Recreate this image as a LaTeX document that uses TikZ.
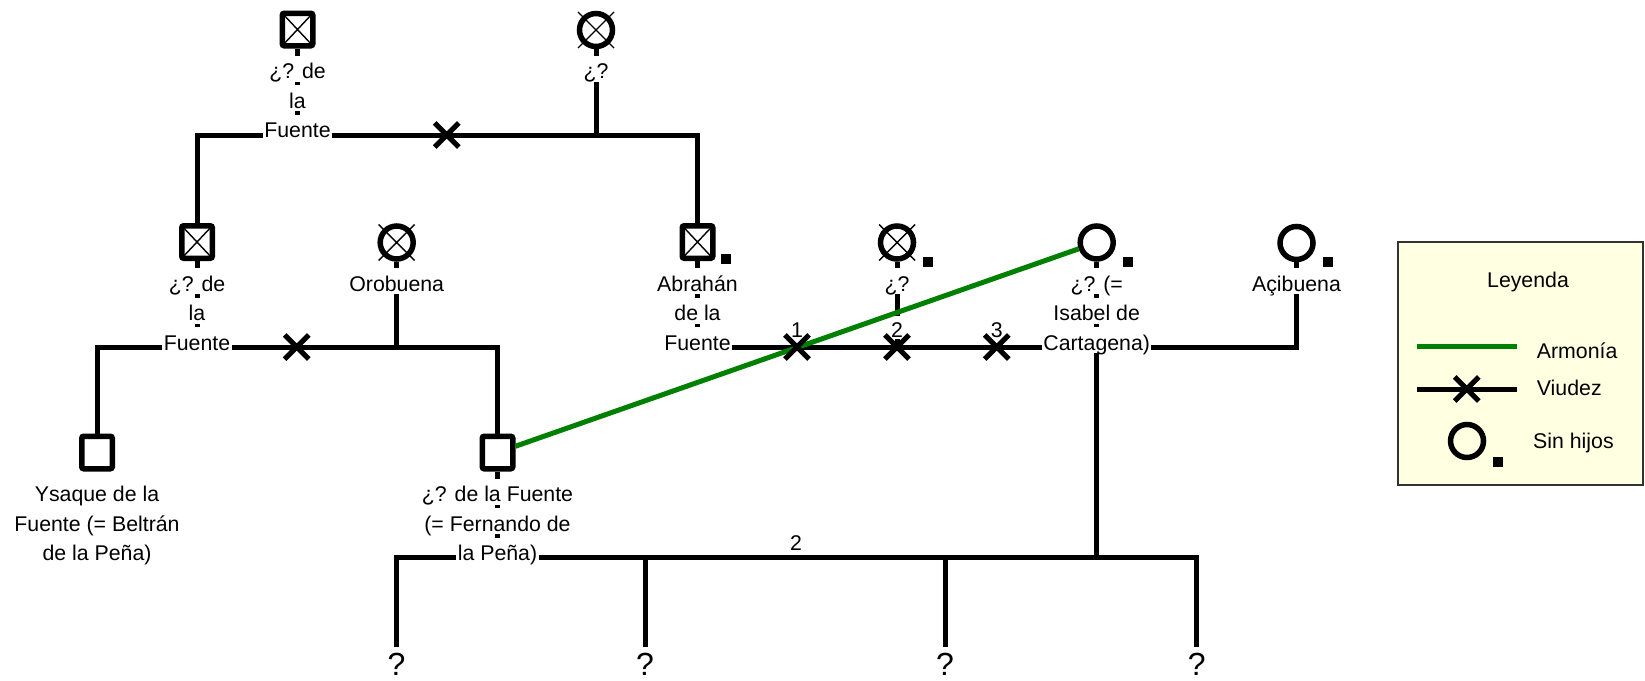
\documentclass[tikz,border=0pt]{standalone}
\usepackage{fontspec}
\setmainfont{Liberation Sans}
\usetikzlibrary{shapes.misc}
\definecolor{harmgreen}{RGB}{0,128,0}
\definecolor{legendfill}{RGB}{255,255,225}
\definecolor{legendborder}{RGB}{50,50,50}
\newcommand{\lblfont}{\fontsize{21.3pt}{30pt}\selectfont}
\newcommand{\qfont}{\fontsize{32pt}{36pt}\selectfont}

\begin{document}
\begin{tikzpicture}[x=1pt,y=-1pt,
  ln/.style={line width=5pt},
  harm/.style={line width=5pt, draw=harmgreen},
  male/.style={rectangle, draw, fill=white, line width=5.5pt, rounded corners=2pt,
    minimum width=30.5pt, minimum height=32.5pt, inner sep=0pt},
  female/.style={circle, draw, fill=white, line width=5.5pt, minimum size=33pt, inner sep=0pt},
  deadm/.style={path picture={\draw[line width=1.4pt]
    (path picture bounding box.north west) -- (path picture bounding box.south east)
    (path picture bounding box.north east) -- (path picture bounding box.south west);}},
  deadx/.style={line width=1.4pt},
  nokid/.style={rectangle, fill=black, minimum size=10pt, inner sep=0pt},
  widow/.style={cross out, draw, line width=5.2pt, minimum size=19pt, inner sep=0pt},
  lbl/.style={font=\lblfont, fill=white, inner xsep=1.5pt, inner ysep=0pt,
    text height=23pt, text depth=3pt, anchor=base},
  num/.style={font=\lblfont, fill=white, inner xsep=0.5pt, inner ysep=0pt,
    text height=21pt, text depth=2pt, anchor=base},
  txt/.style={font=\lblfont, inner sep=0pt, anchor=base},
  qm/.style={font=\qfont, inner sep=0pt, anchor=base},
]
\useasboundingbox (0,0) rectangle (1645,680);

% ---------- persons ----------
% first generation
\node[male, deadm] (A) at (297.5,29.5) {};
\node[female] (B) at (596,30) {};
% second generation
\node[male, deadm] (C) at (197,242) {};
\node[female] (oro) at (396.7,242.5) {};
\node[male, deadm] (abr) at (697.5,242) {};
\node[female] (qmw) at (897,242.5) {};
\node[female] (isa) at (1096.7,242.5) {};
\node[female] (aci) at (1296.5,243) {};
% third generation
\node[male] (ysa) at (97,452.5) {};
\node[male] (fer) at (497.5,452.5) {};

% deceased marks on the women
\draw[deadx] ([shift={(-18,-18)}]B.center) -- ([shift={(18,18)}]B.center)
             ([shift={(18,-18)}]B.center) -- ([shift={(-18,18)}]B.center);
\draw[deadx] ([shift={(-18,-18)}]oro.center) -- ([shift={(18,18)}]oro.center)
             ([shift={(18,-18)}]oro.center) -- ([shift={(-18,18)}]oro.center);
\draw[deadx] ([shift={(-18,-18)}]qmw.center) -- ([shift={(18,18)}]qmw.center)
             ([shift={(18,-18)}]qmw.center) -- ([shift={(-18,18)}]qmw.center);

% childless marks
\node[nokid] (abrk) at (726,258.5) {};
\node[nokid] (qmwk) at (928,261.5) {};
\node[nokid] (isak) at (1128,261.5) {};
\node[nokid] (acik) at (1328,261.5) {};

% ---------- junction points ----------
\coordinate (j2) at (697.5,135);
\coordinate (k2) at (497.5,347);
\coordinate (m2) at (1296.5,347);
\coordinate (hc) at (796,557);
\coordinate (d1) at (396.5,647);
\coordinate (d2) at (645,647);
\coordinate (d3) at (945,647);
\coordinate (d4) at (1196.7,647);

% ---------- family lines ----------
\draw[ln] (C) |- (j2) -- (abr);
\draw[ln] (A) -- (A |- j2);
\draw[ln] (B) -- (B |- j2);

\draw[ln] (ysa) |- (k2) -- (fer);
\draw[ln] (C) -- (C |- k2);
\draw[ln] (oro) -- (oro |- k2);

\draw[ln] (abr) |- (m2) -- (aci);
\draw[ln] (qmw) -- (qmw |- m2);

\draw[ln] (d1) -- (d1 |- hc) -| (d4);
\draw[ln] (d2) -- (d2 |- hc);
\draw[ln] (d3) -- (d3 |- hc);
\draw[ln] (fer) -- (fer |- hc);
\draw[ln] (isa) -- (isa |- hc);

% marriage order numbers
\node[num] (n1) at (797,337) {1};
\node[num] (n2) at (897,337) {2};
\node[num] (n3) at (996.7,337) {3};
\node[txt] (n4) at (796,550) {2};

% harmony link
\draw[harm] (fer) -- (isa);

% widowhood marks
\node[widow] (w1) at (446.7,135) {};
\node[widow] (w2) at (296.7,347) {};
\node[widow] (w3) at (797,347) {};
\node[widow] (w4) at (897,347) {};
\node[widow] (w5) at (996.7,347) {};

% ---------- names ----------
\node[lbl] (a1) at (297.5,78.5) {¿? de};
\node[lbl] (a2) at (297.5,108) {la};
\node[lbl] (a3) at (297.5,137.5) {Fuente};
\node[lbl] (b1) at (596,78.5) {¿?};

\node[lbl] (c1) at (197,291) {¿? de};
\node[lbl] (c2) at (197,320.5) {la};
\node[lbl] (c3) at (197,350) {Fuente};
\node[lbl] (o1) at (396.7,291) {Orobuena};
\node[lbl] (ab1) at (697.5,291) {Abrahán};
\node[lbl] (ab2) at (697.5,320.5) {de la};
\node[lbl] (ab3) at (697.5,350) {Fuente};
\node[lbl] (qw1) at (897,291) {¿?};
\node[lbl] (i1) at (1096.7,291) {¿? (=};
\node[lbl] (i2) at (1096.7,320.5) {Isabel de};
\node[lbl] (i3) at (1096.7,350) {Cartagena)};
\node[lbl] (ac1) at (1296.5,291) {Açibuena};

\node[lbl] (y1) at (97,501.5) {Ysaque de la};
\node[lbl] (y2) at (97,531) {Fuente (= Beltrán};
\node[lbl] (y3) at (97,560.5) {de la Peña)};
\node[lbl] (f1) at (497.5,501.5) {¿? de la Fuente};
\node[lbl] (f2) at (497.5,531) {(= Fernando de};
\node[lbl] (f3) at (497.5,560.5) {la Peña)};

\node[qm] (q1) at (396.5,675) {?};
\node[qm] (q2) at (645,675) {?};
\node[qm] (q3) at (945,675) {?};
\node[qm] (q4) at (1196.7,675) {?};

% ---------- legend ----------
\draw[draw=legendborder, fill=legendfill, line width=2pt] (1398,241.5) rectangle (1642.5,485);
\node[txt] (ltitle) at (1528,287) {Leyenda};
\coordinate (lg1) at (1416.7,346.7);
\coordinate (lg2) at (1516.7,346.7);
\draw[harm] (lg1) -- (lg2);
\node[txt, anchor=base west] (lt1) at (1536.7,358.4) {Armonía};
\coordinate (lv1) at (1416.7,389);
\coordinate (lv2) at (1516.7,389);
\draw[ln] (lv1) -- (lv2);
\node[widow] (lvx) at (1466.7,389) {};
\node[txt, anchor=base west] (lt2) at (1536.7,395.7) {Viudez};
\node[female, fill=none] (lc) at (1467,441) {};
\node[nokid] (lck) at (1498,461.7) {};
\node[txt, anchor=base west] (lt3) at (1533,448.5) {Sin hijos};
\end{tikzpicture}
\end{document}
